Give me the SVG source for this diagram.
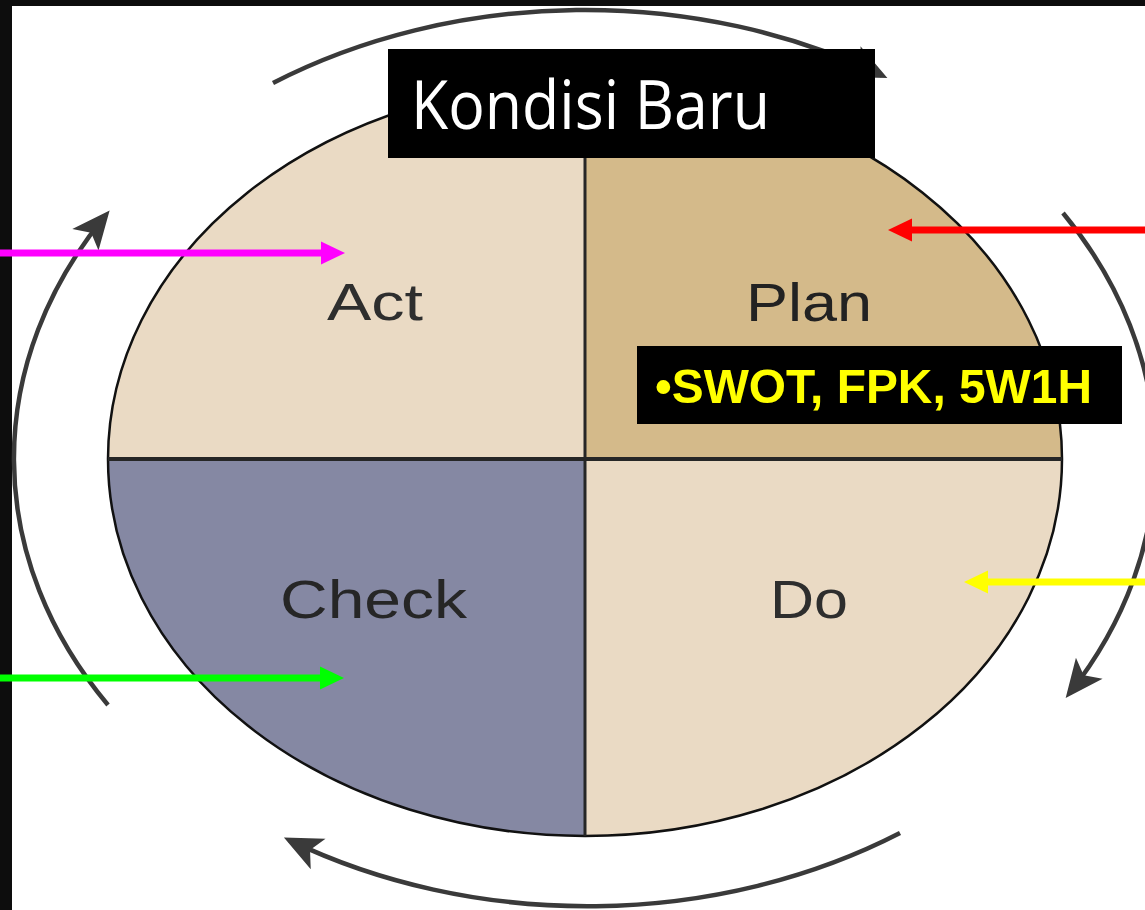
<svg xmlns="http://www.w3.org/2000/svg" width="1145" height="910" viewBox="0 0 1145 910">
<style>
.cyc{fill:none;stroke:#3a3a3a;stroke-width:4.5;marker-end:url(#cyc)}
.lbl{font-family:"Liberation Sans",Arial,sans-serif;fill:#2e2e2e}
.div{stroke:#262626;stroke-width:4}
.ca{fill:none;stroke-width:7}
</style>
<defs>
<marker id="cyc" markerUnits="userSpaceOnUse" viewBox="-2 -20 44 40" markerWidth="44" markerHeight="40" refX="32" refY="0" orient="auto" overflow="visible">
<path d="M0,-17 L38,0 L0,17 L9,0 Z" fill="#3a3a3a"/>
</marker>
<marker id="mPink" markerUnits="userSpaceOnUse" viewBox="0 -12 26 24" markerWidth="26" markerHeight="24" refX="2" refY="0" orient="auto" overflow="visible"><path d="M0,-11.5 L24,0 L0,11.5 Z" fill="#FF00FF"/></marker>
<marker id="mGreen" markerUnits="userSpaceOnUse" viewBox="0 -12 26 24" markerWidth="26" markerHeight="24" refX="2" refY="0" orient="auto" overflow="visible"><path d="M0,-11.5 L24,0 L0,11.5 Z" fill="#00FF00"/></marker>
<marker id="mRed" markerUnits="userSpaceOnUse" viewBox="0 -12 26 24" markerWidth="26" markerHeight="24" refX="2" refY="0" orient="auto" overflow="visible"><path d="M0,-11.5 L24,0 L0,11.5 Z" fill="#FF0000"/></marker>
<marker id="mYellow" markerUnits="userSpaceOnUse" viewBox="0 -12 26 24" markerWidth="26" markerHeight="24" refX="2" refY="0" orient="auto" overflow="visible"><path d="M0,-11.5 L24,0 L0,11.5 Z" fill="#FFFF00"/></marker>
</defs>
<rect x="0" y="0" width="1145" height="910" fill="#ffffff"/>
<rect x="0" y="0" width="1145" height="6" fill="#0d0d0d"/>
<rect x="0" y="0" width="12" height="910" fill="#0d0d0d"/>

<g id="act">
<path d="M585,459 L108,459 A477,377 0 0 1 585,82 Z" fill="#EADAC4"/>
<text class="lbl" x="327" y="320" font-size="52" textLength="96" lengthAdjust="spacingAndGlyphs">Act</text>
</g>
<g id="plan">
<path d="M585,459 L585,82 A477,377 0 0 1 1062,459 Z" fill="#D4BA8A"/>
<text class="lbl" x="746" y="321" font-size="54" textLength="126" lengthAdjust="spacingAndGlyphs" style="fill:#222">Plan</text>
</g>
<g id="do">
<path d="M585,459 L1062,459 A477,377 0 0 1 585,836 Z" fill="#EADAC4"/>
<text class="lbl" x="770" y="618" font-size="53" textLength="78" lengthAdjust="spacingAndGlyphs">Do</text>
</g>
<g id="check">
<path d="M585,459 L585,836 A477,377 0 0 1 108,459 Z" fill="#8588A3"/>
<text class="lbl" x="280" y="618" font-size="53" textLength="187" lengthAdjust="spacingAndGlyphs" style="fill:#262626">Check</text>
</g>
<g id="outline">
<ellipse cx="585" cy="459" rx="477" ry="377" fill="none" stroke="#111" stroke-width="2.5"/>
<line class="div" x1="108" y1="459" x2="1062" y2="459"/>
<line class="div" x1="585" y1="82" x2="585" y2="836" style="stroke-width:3"/>
</g>

<g id="connectors">
<path class="cyc" d="M273,83 A570,447.5 0 0 1 882,75.5"/>
<path class="cyc" d="M1063,213 A570,447.5 0 0 1 1069.4,693.3"/>
<path class="cyc" d="M900,833 A570,447.5 0 0 1 289.3,840.1"/>
<path class="cyc" d="M108,705 A570,447.5 0 0 1 105.8,215.1"/>
<line class="ca" x1="0" y1="253" x2="323" y2="253" stroke="#FF00FF" marker-end="url(#mPink)"/>
<line class="ca" x1="0" y1="678" x2="322" y2="678" stroke="#00FF00" marker-end="url(#mGreen)"/>
<line class="ca" x1="1145" y1="230" x2="910" y2="230" stroke="#FF0000" marker-end="url(#mRed)"/>
<line class="ca" x1="1145" y1="582" x2="986" y2="582" stroke="#FFFF00" marker-end="url(#mYellow)"/>
</g>

<g id="kondisi-baru">
<rect x="388" y="49" width="487" height="109" fill="#000"/>
<text x="411" y="129" font-family="'Open Sans',Lato,sans-serif" font-size="68" fill="#fff" textLength="359" lengthAdjust="spacingAndGlyphs">Kondisi Baru</text>
</g>
<g id="swot">
<rect x="637" y="346" width="485" height="78" fill="#000"/>
<text x="655" y="403" font-family="'Liberation Sans',Arial,sans-serif" font-weight="bold" font-size="49" fill="#FFFF00" textLength="437" lengthAdjust="spacingAndGlyphs">•SWOT, FPK, 5W1H</text>
</g>
</svg>
